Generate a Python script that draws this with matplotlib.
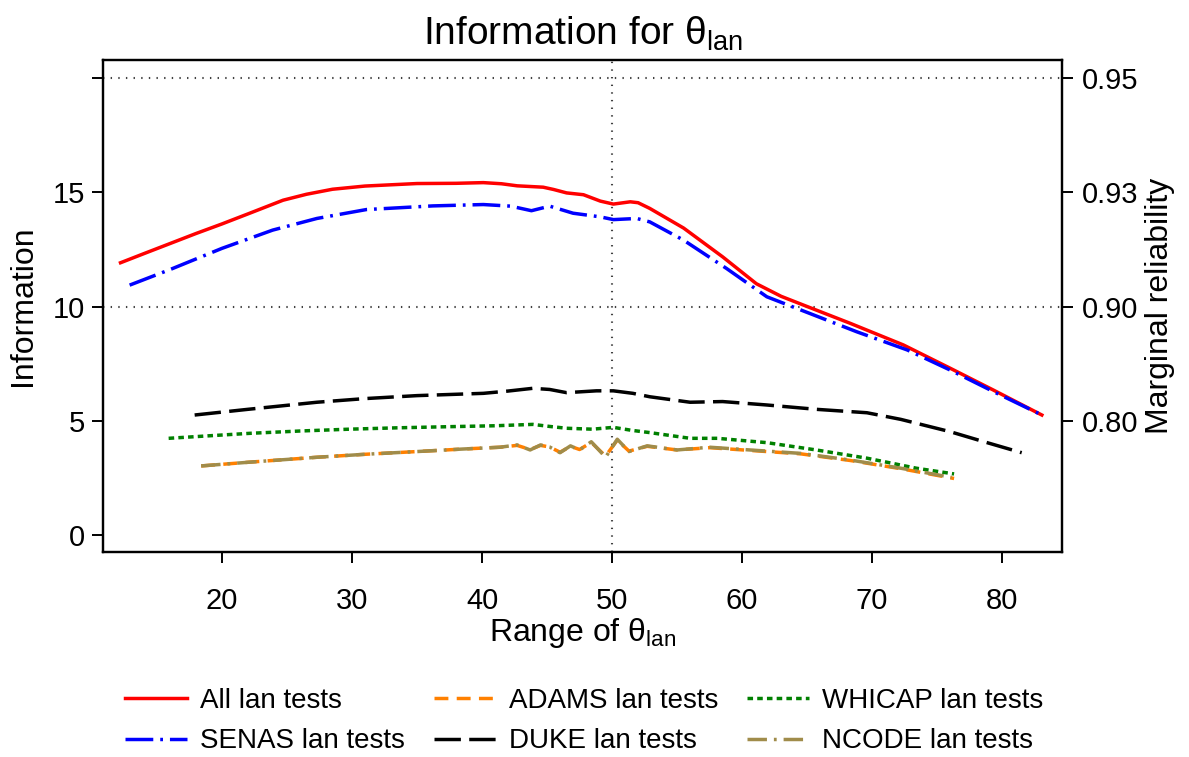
import matplotlib
matplotlib.use("Agg")
import matplotlib.pyplot as plt

plt.rcParams["font.family"] = ["Liberation Sans", "DejaVu Sans"]
plt.rcParams["mathtext.default"] = "regular"
plt.rcParams["lines.scale_dashes"] = False

# Test information curves over the language ability range.
all_x = [12.2, 14, 16, 18, 20, 22, 24.7, 26.5, 28.5, 31, 35, 38, 40.1, 41.5, 42.7, 44.7,
         45.5, 46.5, 47.8, 49.1, 50.1, 51.4, 52.0, 52.9, 55.5, 58.5, 61.1, 63, 64.7, 68.3,
         72.4, 76, 79.3, 83.05]
all_y = [11.92, 12.32, 12.76, 13.2, 13.62, 14.06, 14.66, 14.92, 15.14, 15.28, 15.39, 15.40,
         15.43, 15.38, 15.29, 15.23, 15.13, 14.98, 14.90, 14.62, 14.49, 14.59, 14.55, 14.30,
         13.44, 12.18, 11.0, 10.45, 10.07, 9.27, 8.32, 7.3, 6.35, 5.25]

senas_x = [12.9, 16, 20, 23.9, 27.3, 31.1, 36.2, 40.1, 42.2, 43.8, 45.2, 47, 49.1, 50.1,
           51.9, 52.9, 55.5, 58.8, 61.9, 65.2, 68.8, 72.7, 76, 79.6, 83.05]
senas_y = [10.94, 11.62, 12.55, 13.35, 13.86, 14.25, 14.41, 14.47, 14.40, 14.20, 14.40, 14.09,
           13.93, 13.81, 13.86, 13.71, 12.91, 11.67, 10.43, 9.70, 8.90, 8.10, 7.22, 6.2, 5.25]

duke_x = [17.9, 22, 27.3, 31, 35, 40.1, 42, 43.9, 45.2, 46.5, 48.8, 50.1, 51.6, 52.9, 56,
          58.5, 61.9, 65.7, 69.6, 72.2, 76, 78.6, 81.5]
duke_y = [5.25, 5.5, 5.81, 5.97, 6.10, 6.20, 6.30, 6.42, 6.37, 6.23, 6.31, 6.31, 6.20, 6.05,
          5.81, 5.84, 5.69, 5.50, 5.35, 5.06, 4.52, 4.08, 3.60]

whicap_x = [15.9, 19, 22.2, 26, 29.8, 33.5, 37.5, 41, 43.9, 45.2, 46.5, 48.5, 50.1, 51.5,
            52.9, 56, 58.1, 61.9, 65.7, 69.6, 73.4, 76.3]
whicap_y = [4.23, 4.34, 4.45, 4.55, 4.63, 4.69, 4.74, 4.78, 4.84, 4.75, 4.67, 4.63, 4.71,
            4.58, 4.48, 4.23, 4.23, 4.04, 3.72, 3.36, 2.92, 2.67]

adams_x = [18.4, 22, 27.3, 31, 35, 38.5, 41.4, 42.7, 43.7, 44.5, 45.2, 46.0, 46.8, 47.5,
           48.4, 49.5, 50.4, 51.3, 52.7, 55.0, 57.5, 60.6, 64.5, 68.3, 72.2, 76.3]
adams_y = [3.02, 3.18, 3.40, 3.53, 3.65, 3.76, 3.84, 3.92, 3.74, 3.92, 3.85, 3.62, 3.88,
           3.74, 4.05, 3.45, 4.15, 3.67, 3.88, 3.72, 3.82, 3.70, 3.55, 3.26, 2.90, 2.47]

ncode_x = [18.4, 22, 27.3, 31, 35, 38.5, 41.4, 42.7, 43.7, 44.5, 45.2, 46.0, 46.8, 47.5,
           48.4, 49.5, 50.4, 51.3, 52.7, 55.0, 57.5, 60.6, 64.5, 68.3, 72.2, 76.1]
ncode_y = [3.02, 3.18, 3.40, 3.53, 3.65, 3.76, 3.84, 3.94, 3.72, 3.94, 3.85, 3.60, 3.90,
           3.72, 4.08, 3.40, 4.19, 3.65, 3.90, 3.72, 3.84, 3.72, 3.57, 3.28, 2.92, 2.52]

info_ticks = [0, 5, 10, 15, 20]
info_labels = ["0", "5", "10", "15", ""]
rel_ticks = [5, 10, 15, 20]
rel_labels = ["0.80", "0.90", "0.93", "0.95"]
theta_ticks = [20, 30, 40, 50, 60, 70, 80]

LW = 2.5
REF = dict(color="0.25", lw=1.5, ls=(0, (1, 4.5)), zorder=1)

fig = plt.figure(figsize=(11.89, 7.57), dpi=100)
ax = fig.add_axes([0.0866, 0.2708, 0.8066, 0.6499])

ax.axhline(20, **REF)
ax.axhline(10, **REF)
ax.axvline(50, **REF)

ax.plot(all_x, all_y, color="#ff0000", lw=LW, label="All lan tests")
ax.plot(senas_x, senas_y, color="#0000ff", lw=LW, ls=(0, (20, 5, 2, 5)),
        label="SENAS lan tests")
ax.plot(adams_x, adams_y, color="#ff8000", lw=LW, ls=(0, (10, 6)), label="ADAMS lan tests")
ax.plot(duke_x, duke_y, color="black", lw=LW, ls=(0, (19, 6)), label="DUKE lan tests")
ax.plot(whicap_x, whicap_y, color="#008000", lw=LW, ls=(0, (4, 3)),
        label="WHICAP lan tests")
ax.plot(ncode_x, ncode_y, color="#a08c4a", lw=LW, ls=(0, (14, 5, 2, 5)),
        label="NCODE lan tests")

ax.set_xlim(10.85, 84.6)
ax.set_ylim(-0.75, 20.8)
ax.set_xticks(theta_ticks)
ax.set_yticks(info_ticks)
ax.set_yticklabels(info_labels)
ax.tick_params(labelsize=21, length=8, width=1.4)
ax.tick_params(axis="y", pad=5)
ax.tick_params(axis="x", pad=17)
for s in ax.spines.values():
    s.set_linewidth(1.6)

ax2 = ax.twinx()
ax2.set_ylim(ax.get_ylim())
ax2.set_yticks(rel_ticks)
ax2.set_yticklabels(rel_labels)
ax2.tick_params(labelsize=21, length=8, width=1.4, pad=6)
for s in ax2.spines.values():
    s.set_linewidth(1.6)

ax.set_ylabel("Information", fontsize=23)
ax.yaxis.set_label_coords(-0.068, 0.5)
ax2.set_ylabel("Marginal reliability", fontsize=23)
ax2.yaxis.set_label_coords(1.087, 0.5)
ax.set_xlabel(r"Range of θ$_{lan}$", fontsize=23)
ax.xaxis.set_label_coords(0.5, -0.13)
ax.set_title(r"Information for θ$_{lan}$", fontsize=28, pad=11)

fig.legend(loc="upper left", bbox_to_anchor=(0.105, 0.0911), ncol=3, frameon=False,
           fontsize=20, handlelength=2.23, handletextpad=0.47, columnspacing=1.05,
           labelspacing=0.52, borderpad=0, borderaxespad=0)

fig.savefig("out.png", dpi=100, facecolor="white")
